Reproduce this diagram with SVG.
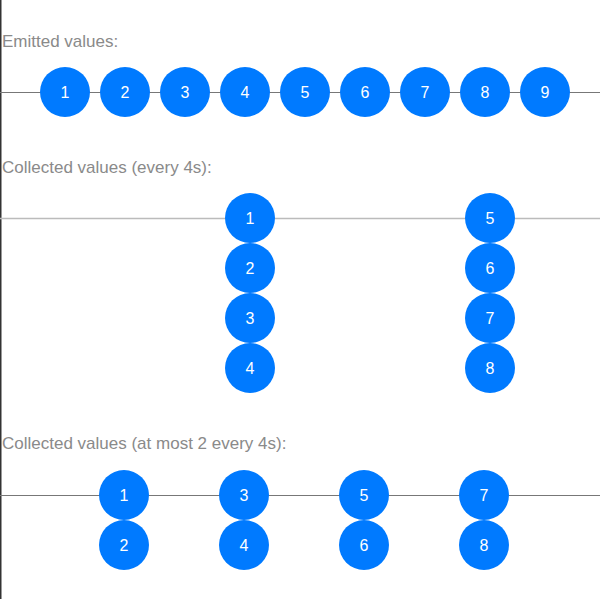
<svg xmlns="http://www.w3.org/2000/svg" width="600" height="599" viewBox="0 0 600 599">
<style>
.lbl{font-family:"Liberation Sans",Arial,sans-serif;font-size:17px;fill:#8a8a8a}
.c{fill:#007AFF}
.n{font-family:"Liberation Sans",Arial,sans-serif;font-size:16px;fill:#ffffff;text-anchor:middle}
.axis{stroke:#777;stroke-width:1}
.axis2{stroke:#bbb;stroke-width:1.5}
</style>
<defs>
<circle id="b" r="25" class="c"/>
</defs>
<rect x="0" y="0" width="600" height="599" fill="#fff"/>
<line x1="0.75" y1="0" x2="0.75" y2="599" stroke="#333" stroke-width="1.5"/>
<text class="lbl" x="2" y="47">Emitted values:</text>
<text class="lbl" x="2" y="173">Collected values (every 4s):</text>
<text class="lbl" x="2" y="449">Collected values (at most 2 every 4s):</text>
<g id="connectors">
<line class="axis" x1="0" y1="92.5" x2="600" y2="92.5"/>
<line class="axis2" x1="0" y1="218.5" x2="600" y2="218.5"/>
<line class="axis" x1="0" y1="495.5" x2="600" y2="495.5"/>
</g>
<g id="emitted">
<g id="e1"><use href="#b" x="65" y="92"/><text class="n" x="65" y="98">1</text></g>
<g id="e2"><use href="#b" x="125" y="92"/><text class="n" x="125" y="98">2</text></g>
<g id="e3"><use href="#b" x="185" y="92"/><text class="n" x="185" y="98">3</text></g>
<g id="e4"><use href="#b" x="245" y="92"/><text class="n" x="245" y="98">4</text></g>
<g id="e5"><use href="#b" x="305" y="92"/><text class="n" x="305" y="98">5</text></g>
<g id="e6"><use href="#b" x="365" y="92"/><text class="n" x="365" y="98">6</text></g>
<g id="e7"><use href="#b" x="425" y="92"/><text class="n" x="425" y="98">7</text></g>
<g id="e8"><use href="#b" x="485" y="92"/><text class="n" x="485" y="98">8</text></g>
<g id="e9"><use href="#b" x="545" y="92"/><text class="n" x="545" y="98">9</text></g>
</g>
<g id="collected">
<g id="c1"><use href="#b" x="250" y="218"/><text class="n" x="250" y="224">1</text></g>
<g id="c2"><use href="#b" x="250" y="268"/><text class="n" x="250" y="274">2</text></g>
<g id="c3"><use href="#b" x="250" y="318"/><text class="n" x="250" y="324">3</text></g>
<g id="c4"><use href="#b" x="250" y="368"/><text class="n" x="250" y="374">4</text></g>
<g id="c5"><use href="#b" x="490" y="218"/><text class="n" x="490" y="224">5</text></g>
<g id="c6"><use href="#b" x="490" y="268"/><text class="n" x="490" y="274">6</text></g>
<g id="c7"><use href="#b" x="490" y="318"/><text class="n" x="490" y="324">7</text></g>
<g id="c8"><use href="#b" x="490" y="368"/><text class="n" x="490" y="374">8</text></g>
</g>
<g id="limited">
<g id="l1"><use href="#b" x="124" y="495"/><text class="n" x="124" y="501">1</text></g>
<g id="l2"><use href="#b" x="124" y="545"/><text class="n" x="124" y="551">2</text></g>
<g id="l3"><use href="#b" x="244" y="495"/><text class="n" x="244" y="501">3</text></g>
<g id="l4"><use href="#b" x="244" y="545"/><text class="n" x="244" y="551">4</text></g>
<g id="l5"><use href="#b" x="364" y="495"/><text class="n" x="364" y="501">5</text></g>
<g id="l6"><use href="#b" x="364" y="545"/><text class="n" x="364" y="551">6</text></g>
<g id="l7"><use href="#b" x="484" y="495"/><text class="n" x="484" y="501">7</text></g>
<g id="l8"><use href="#b" x="484" y="545"/><text class="n" x="484" y="551">8</text></g>
</g>
</svg>
